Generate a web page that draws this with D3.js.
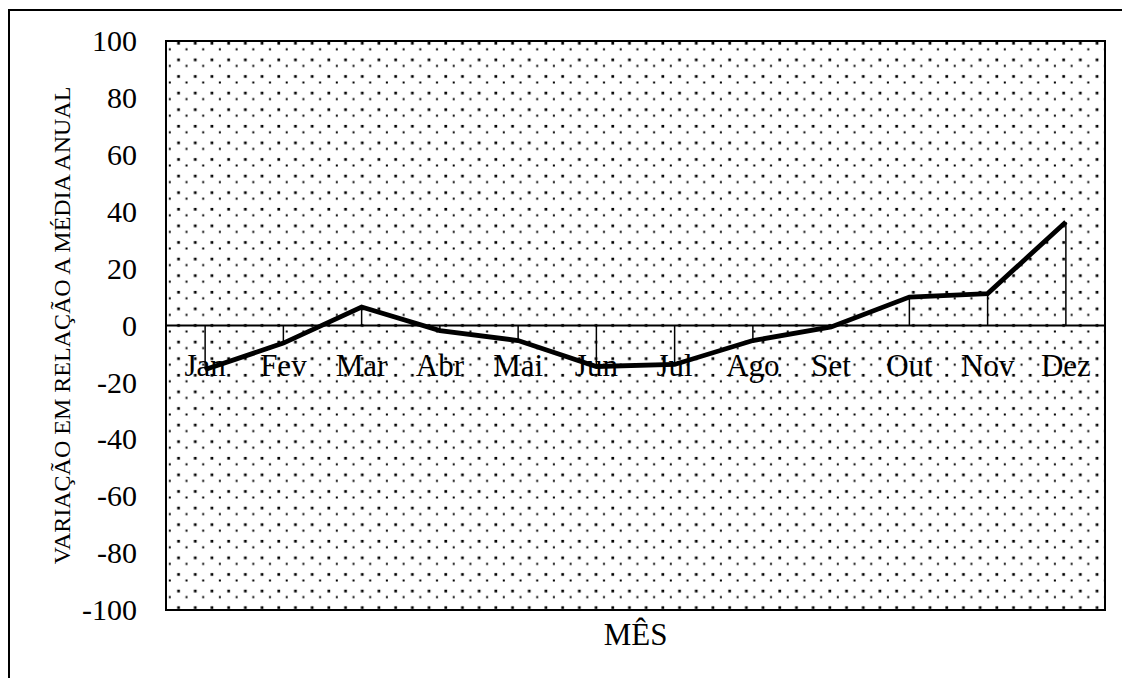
<!DOCTYPE html>
<html>
<head>
<meta charset="utf-8">
<script src="https://cdn.jsdelivr.net/npm/d3@7"></script>
<style>
  html, body { margin: 0; padding: 0; background: #fff; }
  svg { display: block; }
  text { font-family: "Liberation Serif", "Times New Roman", Times, serif; fill: #000; }
</style>
</head>
<body>
<svg id="chart" width="1122" height="678"></svg>
<script>
// Monthly variation relative to the annual mean
const months = ["Jan", "Fev", "Mar", "Abr", "Mai", "Jun", "Jul", "Ago", "Set", "Out", "Nov", "Dez"];
const variation = [-15.5, -6.2, 6.5, -1.8, -5.3, -14.4, -13.7, -5.3, -0.5, 10.0, 11.2, 36.4];
const yTicks = [-100, -80, -60, -40, -20, 0, 20, 40, 60, 80, 100];
const yTitle = "VARIAÇÃO EM RELAÇÃO A MÉDIA ANUAL";
const xTitle = "MÊS";

const FONT = '"Liberation Serif", "Times New Roman", Times, serif';
const svg = d3.select("#chart");
const plot = { left: 166, top: 41, right: 1105, bottom: 610 };

// outer frame
svg.append("rect")
  .attr("x", 9).attr("y", 10)
  .attr("width", 1130).attr("height", 690)
  .attr("fill", "none").attr("stroke", "#000").attr("stroke-width", 2);

// dotted fill pattern
const defs = svg.append("defs");
const pat = defs.append("pattern")
  .attr("id", "dots")
  .attr("patternUnits", "userSpaceOnUse")
  .attr("x", plot.left).attr("y", plot.top)
  .attr("width", 16.7).attr("height", 16.6);
pat.append("rect").attr("x", 11.2).attr("y", 0.9).attr("width", 2.7).attr("height", 2.7).attr("fill", "#000");
pat.append("rect").attr("x", 2.8).attr("y", 7.3).attr("width", 2.0).attr("height", 2.0).attr("fill", "#000");

const x = d3.scaleBand().domain(months).range([plot.left, plot.right]).padding(0);
const y = d3.scaleLinear().domain([-100, 100]).range([plot.bottom, plot.top]);

svg.append("rect")
  .attr("x", plot.left).attr("y", plot.top)
  .attr("width", plot.right - plot.left).attr("height", plot.bottom - plot.top)
  .attr("fill", "url(#dots)");

// Y axis tick labels
const yAxis = d3.axisLeft(y).tickValues(yTicks).tickFormat(d => String(d)).tickSize(0).tickPadding(29);
const gy = svg.append("g").attr("transform", `translate(${plot.left},0)`).call(yAxis);
gy.attr("font-family", null);
gy.select(".domain").remove();
gy.selectAll("text")
  .style("font-family", FONT)
  .style("font-size", "30px").attr("fill", "#000");

// drop lines from each point to the zero line
const cx = m => x(m) + x.bandwidth() / 2;
svg.append("g").selectAll("line")
  .data(months.map((m, i) => ({ m, v: variation[i] })))
  .join("line")
  .attr("x1", d => cx(d.m)).attr("x2", d => cx(d.m))
  .attr("y1", d => y(d.v)).attr("y2", y(0))
  .attr("stroke", "#000").attr("stroke-width", 1.5);

// zero line with category labels below it
const xAxis = d3.axisBottom(x).tickSize(0).tickPadding(28);
const gx = svg.append("g").attr("transform", `translate(0,${y(0)})`).call(xAxis);
gx.attr("font-family", null);
gx.select(".domain").attr("stroke", "#000").attr("stroke-width", 2)
  .attr("d", `M${plot.left},0H${plot.right}`);
gx.selectAll("text")
  .style("font-family", FONT)
  .style("font-size", "31px").attr("fill", "#000");

// series line
const line = d3.line().x((d, i) => cx(months[i])).y(d => y(d));
svg.append("path")
  .datum(variation)
  .attr("d", line)
  .attr("fill", "none").attr("stroke", "#000").attr("stroke-width", 4.8)
  .attr("stroke-linejoin", "miter");

// plot border
svg.append("rect")
  .attr("x", plot.left).attr("y", plot.top)
  .attr("width", plot.right - plot.left).attr("height", plot.bottom - plot.top)
  .attr("fill", "none").attr("stroke", "#000").attr("stroke-width", 2);

// axis titles
svg.append("text")
  .attr("transform", `translate(70,${(plot.top + plot.bottom) / 2}) rotate(-90)`)
  .attr("text-anchor", "middle")
  .style("font-family", FONT)
  .style("font-size", "24px")
  .text(yTitle);

svg.append("text")
  .attr("x", (plot.left + plot.right) / 2).attr("y", 645)
  .attr("text-anchor", "middle")
  .style("font-family", FONT)
  .style("font-size", "31px")
  .text(xTitle);
</script>
</body>
</html>
